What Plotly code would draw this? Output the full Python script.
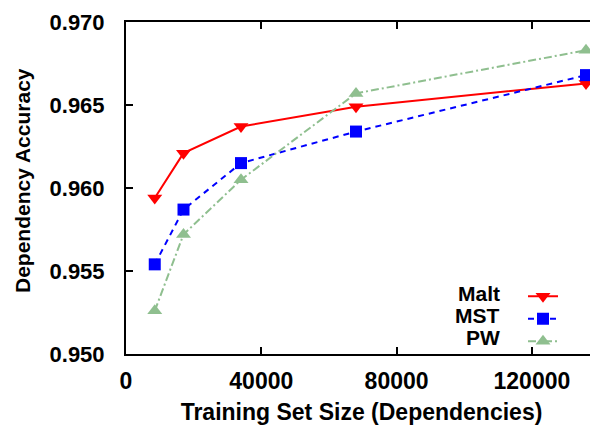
import plotly.graph_objects as go

sizes = [8500, 17000, 34000, 68000, 136000]
malt = [0.9594, 0.9621, 0.9637, 0.9649, 0.9663]
mst = [0.9554, 0.9587, 0.9615, 0.9634, 0.9668]
pw = [0.9526, 0.9572, 0.9605, 0.9657, 0.9683]

series_names = ["Malt", "MST", "PW"]
x_ticks = [0, 40000, 80000, 120000]
y_ticks = [0.950, 0.955, 0.960, 0.965, 0.970]

FONT = "Liberation Sans, Arial, sans-serif"

fig = go.Figure()
fig.add_trace(go.Scatter(x=sizes, y=malt, mode="lines+markers", name=" ",
                         line=dict(color="#ff0000", width=2),
                         marker=dict(symbol="triangle-down", size=13, color="#ff0000")))
fig.add_trace(go.Scatter(x=sizes, y=mst, mode="lines+markers", name=" ",
                         line=dict(color="#0000ff", width=2, dash="6px,5px"),
                         marker=dict(symbol="square", size=12, color="#0000ff")))
fig.add_trace(go.Scatter(x=sizes, y=pw, mode="lines+markers", name=" ",
                         line=dict(color="#8fbf8f", width=2, dash="8px,3px,2px,3px"),
                         marker=dict(symbol="triangle-up", size=13, color="#8fbf8f")))

# page body has an 8px margin; work in reference pixels and shift
OFF = 8
W, H = 598 - OFF, 425 - OFF
PL, PR, PT, PB = 126, 597, 22, 354  # plot box in reference pixels
L, R, T, B = PL - OFF, W - (PR - OFF), PT - OFF, H - (PB - OFF)
pw_px = PR - PL
ph_px = PB - PT

def px2paper_x(px):
    return (px - PL) / pw_px

def px2paper_y(py):
    return (PB - py) / ph_px

row_px = [293, 315.7, 337.7]
for name, ry in zip(series_names, row_px):
    fig.add_annotation(text=name, xref="paper", yref="paper",
                       x=px2paper_x(502), y=px2paper_y(ry),
                       xanchor="right", yanchor="middle", showarrow=False,
                       font=dict(family=FONT, size=21, color="black", weight="bold"))

# y-axis title
fig.add_annotation(text="Dependency Accuracy", xref="paper", yref="paper",
                   x=px2paper_x(22), y=px2paper_y(181), textangle=-90,
                   xanchor="center", yanchor="middle", showarrow=False,
                   font=dict(family=FONT, size=21, color="black", weight="bold"))

axis_common = dict(showline=True, linecolor="black", linewidth=2, mirror="ticks",
                   ticks="inside", ticklen=7, tickwidth=1.5, tickcolor="black",
                   showgrid=False, zeroline=False)

fig.update_xaxes(range=[0, 139250], tickvals=x_ticks, ticktext=[str(v) for v in x_ticks],
                 tickfont=dict(family=FONT, size=23, color="black", weight="bold"),
                 title=dict(text="Training Set Size (Dependencies)", standoff=13,
                            font=dict(family=FONT, size=23, color="black", weight="bold")),
                 ticklabelstandoff=5, **axis_common)
fig.update_yaxes(range=[0.950, 0.970], tickvals=y_ticks, ticktext=[f"{v:.3f}" for v in y_ticks],
                 tickfont=dict(family=FONT, size=22, color="black", weight="bold"),
                 ticklabelstandoff=15, **axis_common)

fig.update_layout(width=W, height=H, margin=dict(l=L, r=R, t=T, b=B, autoexpand=False),
                  plot_bgcolor="white", paper_bgcolor="white",
                  showlegend=True,
                  legend=dict(x=px2paper_x(523), y=px2paper_y(280),
                              xanchor="left", yanchor="top", bgcolor="rgba(0,0,0,0)",
                              font=dict(family=FONT, size=15), tracegroupgap=0,
                              itemwidth=30))

fig.write_html("out.html")
